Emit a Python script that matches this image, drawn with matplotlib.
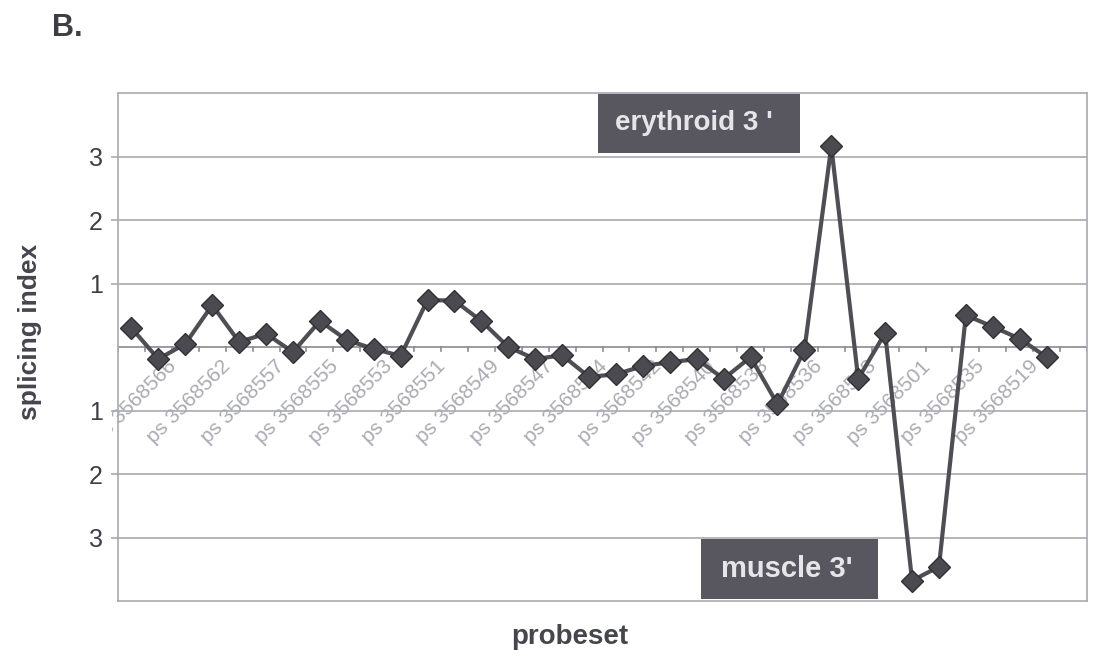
import matplotlib
matplotlib.use("Agg")
import matplotlib.pyplot as plt
from matplotlib.patches import Rectangle
from matplotlib.transforms import Bbox, TransformedBbox

plt.rcParams['font.family'] = ['Liberation Sans', 'DejaVu Sans']

# splicing index per probeset (35 points, 36 category slots)
values = [0.30, -0.19, 0.05, 0.66, 0.08, 0.21, -0.08, 0.41, 0.11, -0.03,
          -0.14, 0.74, 0.73, 0.41, 0.00, -0.19, -0.13, -0.47, -0.43, -0.30,
          -0.24, -0.19, -0.50, -0.16, -0.90, -0.05, 3.16, -0.50, 0.22, -3.68,
          -3.46, 0.50, 0.32, 0.13, -0.16]
n_categories = 36

# labels shown on every other category (1, 3, 5, ...)
label_pos = [1, 3, 5, 7, 9, 11, 13, 15, 17, 19, 21, 23, 25, 27, 29, 31, 33]
label_txt = ['ps 3568566', 'ps 3568562', 'ps 3568557', 'ps 3568555',
             'ps 3568553', 'ps 3568551', 'ps 3568549', 'ps 3568547',
             'ps 3568544', 'ps 3568542', 'ps 3568540', 'ps 3568538',
             'ps 3568536', 'ps 3568513', 'ps 3568501', 'ps 3568535',
             'ps 3568519']

yticks = [-3, -2, -1, 1, 2, 3]
ytick_txt = ['3', '2', '1', '1', '2', '3']

W, H = 1094, 667
fig = plt.figure(figsize=(W / 100, H / 100), dpi=100)
ax = fig.add_axes([118 / W, (H - 601) / H, (1087 - 118) / W, (601 - 93) / H])

grid_c = '#a9a9b1'
for g in range(-3, 4):
    ax.axhline(g, color=grid_c if g != 0 else '#8a8a92', lw=1.2, zorder=1)

ax.plot(range(len(values)), values, color='#4e4e54', lw=3, marker='D',
        markersize=11, markerfacecolor='#4a4a50', markeredgecolor='#303034',
        markeredgewidth=1, zorder=3)

ax.set_xlim(-0.5, n_categories - 0.5)
ax.set_ylim(-4, 4)

# small category tick marks on the zero line
for k in range(n_categories + 1):
    ax.plot([k - 0.5, k - 0.5], [0, -0.07], color='#8a8a92', lw=1.2, zorder=1)

ax.set_xticks([])
ax.set_yticks(yticks)
ax.set_yticklabels(ytick_txt, fontsize=18, color='#3e3e44')
ax.tick_params(axis='y', length=5, width=1.2, color=grid_c, pad=6)

for s in ax.spines.values():
    s.set_color(grid_c)
    s.set_linewidth(1.2)

clip = TransformedBbox(Bbox([[112 / W, 0], [1, 1]]), fig.transFigure)
for p, t in zip(label_pos, label_txt):
    a = ax.annotate(t, xy=(p, 0), xytext=(11, -12), textcoords='offset points',
                    rotation=45, rotation_mode='anchor', ha='right', va='center',
                    fontsize=15, color='#aaaab2', zorder=2)
    a.set_clip_on(True)
    a.set_clip_box(clip)

# annotation boxes
box_c = '#58575f'
ax.add_patch(Rectangle((0.495, 0.882), 0.209, 0.116, transform=ax.transAxes,
                       facecolor=box_c, edgecolor='none', zorder=4))
ax.text(0.594, 0.94, "erythroid 3 '", transform=ax.transAxes, ha='center',
        va='center', fontsize=20, fontweight='bold', color='#e6e6ea', zorder=5)
ax.add_patch(Rectangle((0.602, 0.004), 0.182, 0.118, transform=ax.transAxes,
                       facecolor=box_c, edgecolor='none', zorder=4))
ax.text(0.690, 0.063, "muscle 3'", transform=ax.transAxes, ha='center',
        va='center', fontsize=21, fontweight='bold', color='#e6e6ea', zorder=5)

fig.text(30 / W, 1 - 332 / H, 'splicing index', rotation=90, ha='center',
         va='center', fontsize=19, fontweight='bold', color='#45454d')
fig.text(570 / W, 1 - 637 / H, 'probeset', ha='center', va='center',
         fontsize=20, fontweight='bold', color='#45454d')
fig.text(52 / W, 1 - 28 / H, 'B.', ha='left', va='center', fontsize=22,
         fontweight='bold', color='#3e3e44')

fig.savefig('out.png', dpi=100, facecolor='white')
